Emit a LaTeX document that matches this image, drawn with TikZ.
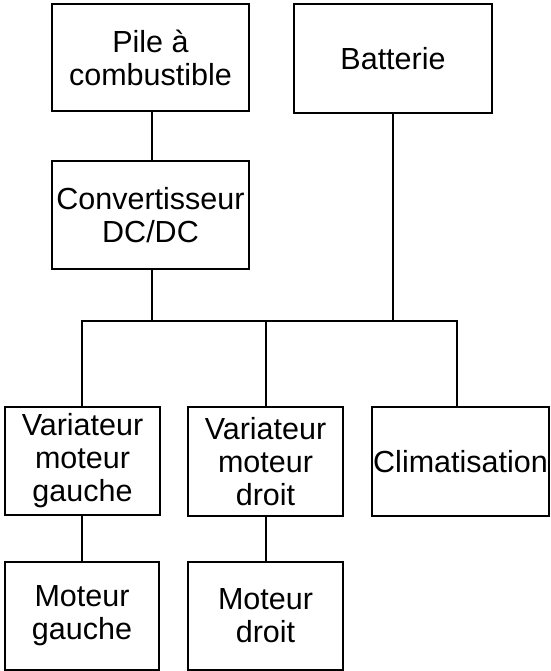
\documentclass[tikz,border=0pt]{standalone}
\usepackage{fontspec}
\setmainfont{Liberation Sans}
\begin{document}
\begin{tikzpicture}[x=1pt,y=-1pt,
  bloc/.style={draw=black, line width=1.8pt, inner sep=0pt, align=center,
    font=\fontsize{30.5}{33}\selectfont},
  lien/.style={draw=black, line width=1.8pt, line join=miter}]
\useasboundingbox (0,0) rectangle (550,671);
% sources
\node[bloc, minimum width=197, minimum height=107] (pile) at (150.5,57.5) {Pile à\\combustible};
\node[bloc, minimum width=198, minimum height=109] (batt) at (393,58.5) {Batterie};
\node[bloc, minimum width=197, minimum height=108] (conv) at (150.5,215) {Convertisseur\\DC/DC};
% consommateurs
\node[bloc, minimum width=155, minimum height=108] (varg) at (82.5,461) {Variateur\\moteur\\gauche};
\node[bloc, minimum width=155, minimum height=109] (vard) at (265.5,461.5) {Variateur\\moteur\\droit};
\node[bloc, minimum width=177, minimum height=109] (clim) at (460.5,461.5) {Climatisation};
\node[bloc, minimum width=154, minimum height=108] (motg) at (82,616) {Moteur\\gauche};
\node[bloc, minimum width=155, minimum height=108] (motd) at (265.5,616) {Moteur\\droit};
% bus continu
\coordinate (busg) at (82,321);
\coordinate (busd) at (457,321);
\draw[lien] (busg |- varg.north) -- (busg) -- (busd) -- (busd |- clim.north);
\draw[lien] ([xshift=1.5]pile.south) -- ([xshift=1.5]conv.north);
\draw[lien] ([xshift=1.5]conv.south) -- ([xshift=1.5]conv.south |- busg);
\draw[lien] (batt.south) -- (batt.south |- busg);
\draw[lien] ([xshift=0.5]vard.north |- busg) -- ([xshift=0.5]vard.north);
\draw[lien] (busg |- varg.south) -- (busg |- motg.north);
\draw[lien] ([xshift=0.5]vard.south) -- ([xshift=0.5]motd.north);
\end{tikzpicture}
\end{document}
